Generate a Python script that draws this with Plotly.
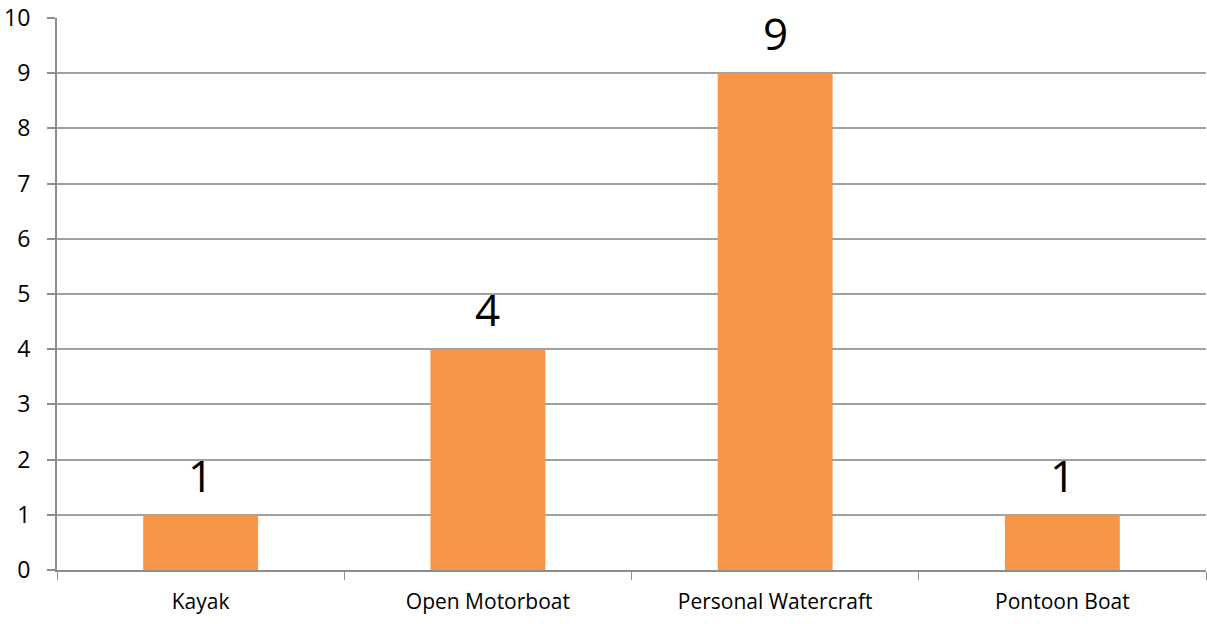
import plotly.graph_objects as go

categories = ["Kayak", "Open Motorboat", "Personal Watercraft", "Pontoon Boat"]
counts = [1, 4, 9, 1]
y_ticks = list(range(0, 11))

fig = go.Figure()
fig.add_trace(
    go.Bar(
        x=categories,
        y=counts,
        marker=dict(color="#F79646", line=dict(width=0)),
        width=0.4,
        hoverinfo="x+y",
    )
)

# value labels above bars
for cat, val in zip(categories, counts):
    fig.add_annotation(
        x=cat,
        y=val,
        text=str(val),
        showarrow=False,
        yanchor="bottom",
        yshift=8,
        font=dict(size=44, color="#000000"),
    )

fig.update_layout(
    width=1207,
    height=624,
    margin=dict(l=57, r=1, t=18, b=54),
    paper_bgcolor="white",
    plot_bgcolor="white",
    showlegend=False,
    font=dict(family="Open Sans, Noto Sans, sans-serif", color="#000000"),
)
fig.update_xaxes(
    type="category",
    showgrid=False,
    showline=True,
    linecolor="#8C8C8C",
    linewidth=2,
    ticks="outside",
    tickson="boundaries",
    ticklen=8,
    tickcolor="#8C8C8C",
    tickwidth=1,
    tickfont=dict(size=21),
    ticklabelstandoff=12,
)
fig.update_yaxes(
    range=[0, 10],
    tickvals=y_ticks,
    showgrid=True,
    gridcolor="#A0A0A0",
    gridwidth=2,
    showline=True,
    linecolor="#8C8C8C",
    linewidth=2,
    ticks="outside",
    ticklen=8,
    tickcolor="#8C8C8C",
    tickwidth=2,
    tickfont=dict(size=23),
    ticklabelstandoff=12,
    zeroline=False,
)

fig.write_html(
    "out.html",
    config={"displayModeBar": False},
    post_script="document.body.style.margin='0';",
)
